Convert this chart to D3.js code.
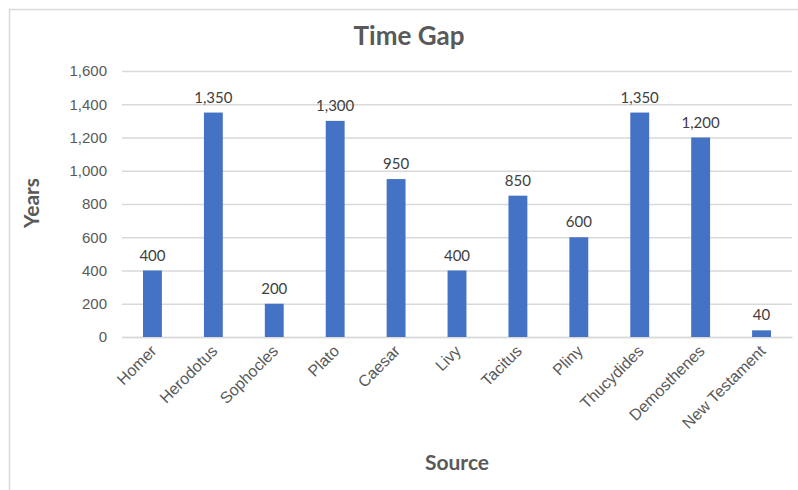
<!DOCTYPE html>
<html>
<head>
<meta charset="utf-8">
<script src="https://cdn.jsdelivr.net/npm/d3@7"></script>
<style>
  body { margin: 0; background: #fff; }
  svg { display: block; font-family: Lato, "Open Sans", sans-serif; }
</style>
</head>
<body>
<svg></svg>
<script>
const sources = ["Homer", "Herodotus", "Sophocles", "Plato", "Caesar", "Livy",
                 "Tacitus", "Pliny", "Thucydides", "Demosthenes", "New Testament"];
const years = [400, 1350, 200, 1300, 950, 400, 850, 600, 1350, 1200, 40];
const y_ticks = [0, 200, 400, 600, 800, 1000, 1200, 1400, 1600];

const width = 798, height = 490;
const margin = { left: 122, right: 6, top: 71, bottom: 153 };

const svg = d3.select("svg").attr("width", width).attr("height", height);

// chart border (top and left edges visible)
svg.append("path")
  .attr("d", `M9.5,${height} V9.5 H${width}`)
  .attr("fill", "none")
  .attr("stroke", "#d9d9d9")
  .attr("stroke-width", 1.5);

const x_scale = d3.scaleBand()
  .domain(sources)
  .range([margin.left, width - margin.right])
  .paddingInner(0.69)
  .paddingOuter(0.345);

const y_scale = d3.scaleLinear()
  .domain([0, 1600])
  .range([height - margin.bottom, margin.top]);

const fmt = d3.format(",");

// gridlines + y axis
const y_axis = d3.axisLeft(y_scale)
  .tickValues(y_ticks)
  .tickFormat(fmt)
  .tickSize(-(width - margin.left - margin.right))
  .tickPadding(15);

const gy = svg.append("g")
  .attr("transform", `translate(${margin.left},0)`)
  .call(y_axis);
gy.select(".domain").remove();
gy.selectAll(".tick line").attr("stroke", "#d9d9d9").attr("stroke-width", 1.3);
gy.selectAll(".tick text")
  .attr("fill", "#595959")
  .style("font-size", "15px");

// x axis
const x_axis = d3.axisBottom(x_scale).tickSize(0).tickPadding(0);
const gx = svg.append("g")
  .attr("transform", `translate(0,${height - margin.bottom})`)
  .call(x_axis);
gx.select(".domain").attr("stroke", "#d9d9d9").attr("stroke-width", 1.3);
gx.selectAll(".tick text")
  .attr("fill", "#595959")
  .style("font-size", "16px")
  .attr("text-anchor", "end")
  .attr("dy", null)
  .attr("transform", "translate(5,15) rotate(-45)");

// bars
svg.append("g")
  .selectAll("rect")
  .data(years)
  .join("rect")
  .attr("x", (d, i) => x_scale(sources[i]))
  .attr("y", d => y_scale(d))
  .attr("width", x_scale.bandwidth())
  .attr("height", d => y_scale(0) - y_scale(d))
  .attr("fill", "#4472c4");

// value labels
svg.append("g")
  .selectAll("text")
  .data(years)
  .join("text")
  .attr("x", (d, i) => x_scale(sources[i]) + x_scale.bandwidth() / 2)
  .attr("y", d => y_scale(d) - 10)
  .attr("text-anchor", "middle")
  .attr("fill", "#404040")
  .style("font-size", "15px")
  .text(d => fmt(d));

// title
svg.append("text")
  .attr("x", 409)
  .attr("y", 45)
  .attr("text-anchor", "middle")
  .attr("fill", "#595959")
  .style("font-size", "26px")
  .style("font-weight", "bold")
  .text("Time Gap");

// y label
svg.append("text")
  .attr("transform", "translate(39,203) rotate(-90)")
  .attr("text-anchor", "middle")
  .attr("fill", "#595959")
  .style("font-size", "21px")
  .style("font-weight", "bold")
  .text("Years");

// x label
svg.append("text")
  .attr("x", 457)
  .attr("y", 470)
  .attr("text-anchor", "middle")
  .attr("fill", "#595959")
  .style("font-size", "21px")
  .style("font-weight", "bold")
  .text("Source");
</script>
</body>
</html>
